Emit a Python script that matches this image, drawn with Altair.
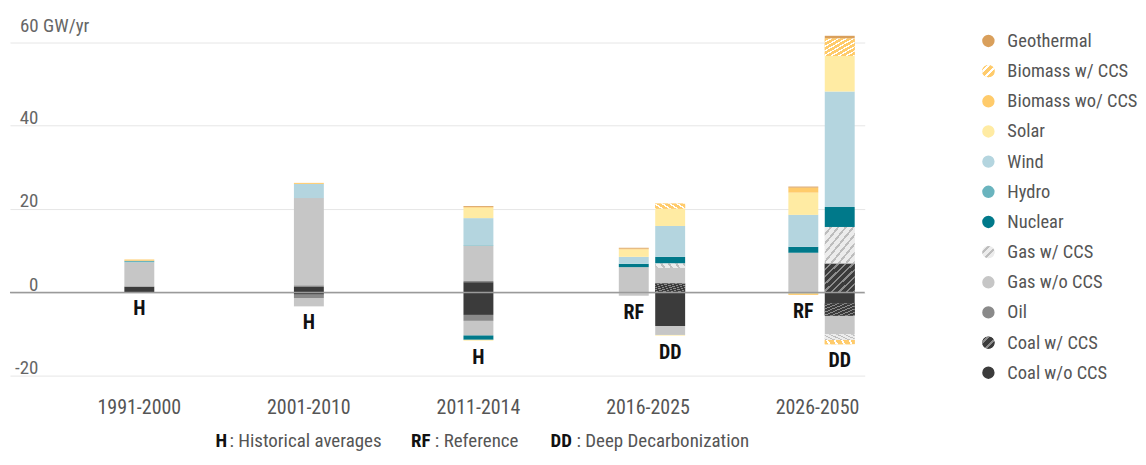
import altair as alt
import pandas as pd

FONT = "Liberation Sans Narrow, Roboto Condensed, DejaVu Sans Condensed, Roboto, sans-serif"

# ---- data -------------------------------------------------------------
bar_periods = ["1991-2000", "2001-2010", "2011-2014", "2016-2025", "2016-2025", "2026-2050", "2026-2050"]
bar_scenarios = ["H", "H", "H", "RF", "DD", "RF", "DD"]
period_order = ["1991-2000", "2001-2010", "2011-2014", "2016-2025", "2026-2050"]

categories = ["Coal w/o CCS", "Coal w/ CCS", "Oil", "Gas w/o CCS", "Gas w/ CCS", "Nuclear",
              "Hydro", "Wind", "Solar", "Biomass wo/ CCS", "Biomass w/ CCS", "Geothermal"]
colors = ["#3b3b3b", "#3b3b3b", "#8a8a8a", "#c6c6c6", "#ececec", "#00798a",
          "#6ab4be", "#b4d5df", "#ffeba3", "#ffcb6b", "#ffcb6b", "#d99f5b"]
hatched = {"Coal w/ CCS": ("#3b3b3b", "#8c8c8c"),
           "Gas w/ CCS": ("#ececec", "#bdbdbd"),
           "Biomass w/ CCS": ("#ffcb6b", "#ffffff")}

# capacity additions (GW/yr), one value per bar
coal_wo_add = [1.3, 1.3, 2.45, 0, 0, 0, 0]
coal_w_add = [0, 0, 0, 0, 2.15, 0, 6.93]
oil_add = [0.2, 0.4, 0.3, 0, 0, 0, 0]
gas_wo_add = [5.7, 20.9, 8.4, 6.05, 3.73, 9.5, 0]
gas_w_add = [0, 0, 0, 0, 1.05, 0, 8.75]
nuclear_add = [0, 0, 0, 0.8, 1.58, 1.43, 4.78]
hydro_add = [0.4, 0, 0.15, 0, 0, 0, 0]
wind_add = [0, 3.4, 6.5, 1.67, 7.41, 7.65, 27.66]
solar_add = [0, 0, 2.5, 1.77, 4.16, 5.33, 8.53]
bio_wo_add = [0.3, 0.25, 0.2, 0.2, 0, 1.2, 0]
bio_w_add = [0, 0, 0, 0, 1.2, 0, 4.2]
geo_add = [0, 0, 0.2, 0.2, 0, 0.25, 0.65]

# retirements (GW/yr), one value per bar
coal_wo_ret = [0, -0.55, -5.4, 0, -8.05, 0, -2.63]
coal_w_ret = [0, 0, 0, 0, 0, 0, -2.96]
oil_ret = [0, -0.8, -1.43, 0, 0, 0, 0]
gas_wo_ret = [0, -2.0, -3.5, -0.8, -2.15, 0, -4.45]
gas_w_ret = [0, 0, 0, 0, 0, 0, -1.36]
nuclear_ret = [0, 0, -1.03, 0, 0, 0, 0]
hydro_ret = [0, 0, 0, 0, 0, -0.25, 0]
wind_ret = [0, 0, 0, 0, 0, 0, 0]
solar_ret = [0, 0, -0.2, 0, -0.15, 0, 0]
bio_wo_ret = [0, 0, 0, 0, 0, -0.35, 0]
bio_w_ret = [0, 0, 0, 0, 0, 0, -1.03]
geo_ret = [0, 0, 0, 0, 0, 0, 0]

adds = [coal_wo_add, coal_w_add, oil_add, gas_wo_add, gas_w_add, nuclear_add,
        hydro_add, wind_add, solar_add, bio_wo_add, bio_w_add, geo_add]
rets = [coal_wo_ret, coal_w_ret, oil_ret, gas_wo_ret, gas_w_ret, nuclear_ret,
        hydro_ret, wind_ret, solar_ret, bio_wo_ret, bio_w_ret, geo_ret]

y_ticks = [-20, 0, 20, 40, 60]

rows = []
for ci, cat in enumerate(categories):
    for bi in range(len(bar_periods)):
        for v in (adds[ci][bi], rets[ci][bi]):
            if v != 0:
                rows.append({"period": bar_periods[bi], "scen": bar_scenarios[bi],
                             "cat": cat, "order": ci, "value": v})
df = pd.DataFrame(rows)

lab = pd.DataFrame({"period": bar_periods, "scen": bar_scenarios,
                    "bottom": [sum(r[i] for r in rets) for i in range(len(bar_periods))]})

# ---- helpers ----------------------------------------------------------
def stripes(base_col, stripe_col, n, frac=0.32):
    stops = []
    for k in range(n):
        a = k / n
        m = (k + 1 - frac) / n
        b = (k + 1) / n
        stops += [alt.GradientStop(color=base_col, offset=a),
                  alt.GradientStop(color=base_col, offset=m),
                  alt.GradientStop(color=stripe_col, offset=m),
                  alt.GradientStop(color=stripe_col, offset=min(b, 1.0))]
    return alt.LinearGradient(gradient="linear", stops=stops, x1=0, y1=0, x2=1, y2=1)

color_scale = alt.Scale(domain=categories, range=colors)
xscale = alt.Scale(domain=period_order, paddingInner=0.5235, paddingOuter=0.2823, align=0.929)
x_enc = alt.X("period:N", scale=xscale,
              axis=alt.Axis(title=None, labelAngle=0, labelFontSize=20, labelColor="#555",
                            labelPadding=13, ticks=False, domain=False, labelFont=FONT))
xoff = alt.XOffset("scen:N", scale=alt.Scale(domain=["RF", "DD"], paddingInner=0.178,
                                             paddingOuter=0.1986, align=0.776))
yscale = alt.Scale(domain=[-22, 63], nice=False, zero=False)
yaxis = alt.Axis(values=y_ticks, title=None, grid=True, gridColor="#e6e6e6", gridWidth=1,
                 ticks=False, domain=False, labelAlign="right", labelPadding=-28,
                 labelBaseline="alphabetic", labelOffset=-2, labelFontSize=19, labelColor="#666",
                 labelFont=FONT,
                 labelExpr="datum.value == 60 ? '' : (datum.value < 0 ? '-' + abs(datum.value) : '' + datum.value)")

W, H = 857, 355.6

base = alt.Chart(df).transform_stack(
    stack="value", as_=["y0", "y1"], groupby=["period", "scen"],
    sort=[alt.SortField("order", order="ascending")], offset="zero")

h_bars = base.transform_filter("datum.scen == 'H'").mark_bar(width=30).encode(
    x=x_enc, y=alt.Y("y0:Q", scale=yscale, axis=yaxis), y2="y1:Q",
    color=alt.Color("cat:N", scale=color_scale, legend=None))

s_bars = base.transform_filter("datum.scen != 'H'").mark_bar().encode(
    x=x_enc, xOffset=xoff, y=alt.Y("y0:Q", scale=yscale, axis=yaxis), y2="y1:Q",
    color=alt.Color("cat:N", scale=color_scale, legend=None))

hatch_layers = []
for cat, (c1, c2) in hatched.items():
    hatch_layers.append(
        base.transform_filter(alt.datum.cat == cat).transform_filter("datum.scen != 'H'")
        .mark_bar(fill=stripes(c1, c2, 8)).encode(
            x=x_enc, xOffset=xoff, y=alt.Y("y0:Q", scale=yscale, axis=yaxis), y2="y1:Q"))

zero_rule = alt.Chart(pd.DataFrame({"v": [0]})).mark_rule(color="#9a9a9a", strokeWidth=1.5).encode(
    y=alt.Y("v:Q", scale=yscale, axis=yaxis))

lab_h = alt.Chart(lab).transform_filter("datum.scen == 'H'").mark_text(
    baseline="top", dy=7, fontSize=20, fontWeight="bold", color="#111", font=FONT).encode(
    x=x_enc, y=alt.Y("bottom:Q", scale=yscale, axis=yaxis), text="scen:N")
lab_s = alt.Chart(lab).transform_filter("datum.scen != 'H'").mark_text(
    baseline="top", dy=7, fontSize=20, fontWeight="bold", color="#111", font=FONT).encode(
    x=x_enc, xOffset=xoff, y=alt.Y("bottom:Q", scale=yscale, axis=yaxis), text="scen:N")

unit = alt.Chart(pd.DataFrame({"v": [60], "t": ["60  GW/yr"]})).mark_text(
    align="left", baseline="alphabetic", dy=-10, fontSize=19, color="#666", font=FONT).encode(
    x=alt.value(10), y=alt.Y("v:Q", scale=yscale, axis=yaxis), text="t:N")

foot_parts = [("H", "bold", "#111", 206), (": Historical averages", "normal", "#555", 220),
              ("RF", "bold", "#111", 402), (": Reference", "normal", "#555", 426),
              ("DD", "bold", "#111", 542), (": Deep Decarbonization", "normal", "#555", 568)]
foot_layers = []
for txt, wt, col, px in foot_parts:
    foot_layers.append(alt.Chart(pd.DataFrame({"t": [txt]})).mark_text(
        align="left", baseline="alphabetic", fontSize=19, fontWeight=wt, color=col, font=FONT).encode(
        x=alt.value(px), y=alt.value(419), text="t:N"))

main = alt.layer(h_bars, s_bars, *hatch_layers, zero_rule, lab_h, lab_s, unit, *foot_layers).properties(
    width=W, height=H)

# ---- legend -------------------------------------------------------------
legend_order = categories[::-1]
leg_df = pd.DataFrame({"cat": legend_order})
leg_y = alt.Y("cat:N", scale=alt.Scale(type="point", domain=legend_order, padding=0.38), axis=None)
leg_c = alt.Chart(leg_df).mark_circle(size=154, opacity=1).encode(
    x=alt.value(23), y=leg_y, color=alt.Color("cat:N", scale=color_scale, legend=None))
leg_h = []
for cat, (c1, c2) in hatched.items():
    leg_h.append(alt.Chart(leg_df).transform_filter(alt.datum.cat == cat).mark_circle(
        size=154, opacity=1, fill=stripes(c1, c2, 3, 0.35)).encode(x=alt.value(23), y=leg_y))
leg_t = alt.Chart(leg_df).mark_text(align="left", baseline="middle", fontSize=18.5,
                                     color="#555", font=FONT).encode(
    x=alt.value(42), y=leg_y, text="cat:N")
legend = alt.layer(leg_c, *leg_h, leg_t).properties(width=170, height=H)

chart = alt.hconcat(main, legend, spacing=100).properties(
    padding={"left": 1, "top": 8, "right": 0, "bottom": 0}
).configure(font=FONT).configure_view(stroke=None)

chart.save("out.html", embed_options={"renderer": "svg", "actions": False})
